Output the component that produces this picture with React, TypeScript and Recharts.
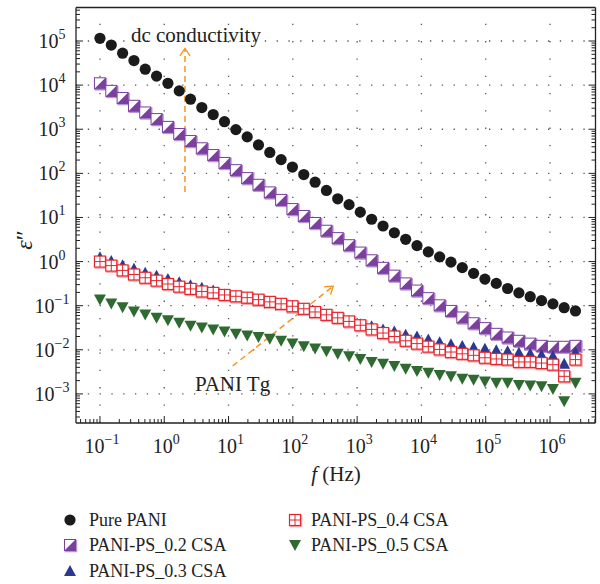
import { ScatterChart, Scatter, XAxis, YAxis, ReferenceLine, ReferenceDot } from "recharts";

// frequency (Hz)
const freq = [
  0.1, 0.15, 0.225, 0.338, 0.506, 0.759, 1.14, 1.71, 2.56, 3.84, 5.77, 8.65, 13.0, 19.5, 29.2,
  43.8, 65.7, 98.5, 148, 222, 333, 499, 749, 1120, 1680, 2530, 3790, 5690, 8530, 12800, 19200,
  28800, 43200, 64800, 97200, 146000, 219000, 328000, 492000, 738000, 1110000, 1660000, 2490000,
];

const purePani = [
  1.15e5, 8.1e4, 5.3e4, 3.6e4, 2.3e4, 1.6e4, 1.1e4, 7.4e3, 4.8e3, 3.1e3, 2.15e3, 1.48e3, 980, 670,
  440, 298, 205, 139, 94, 63, 41, 26.5, 19.5, 13.2, 9.1, 6.4, 4.5, 3.2, 2.3, 1.66, 1.28, 0.97, 0.73,
  0.54, 0.4, 0.32, 0.245, 0.195, 0.16, 0.13, 0.11, 0.09, 0.076,
];
const ps02 = [
  1.1e4, 7.4e3, 5.1e3, 3.4e3, 2.4e3, 1.7e3, 1.13e3, 780, 540, 370, 260, 172, 118, 78, 55, 37, 25,
  15.5, 10.8, 7.5, 5.0, 3.4, 2.35, 1.6, 1.07, 0.72, 0.48, 0.32, 0.22, 0.148, 0.102, 0.076, 0.054,
  0.04, 0.031, 0.023, 0.019, 0.016, 0.0138, 0.0123, 0.0117, 0.0117, 0.0123,
];
const ps03 = [
  1.25, 1.03, 0.83, 0.69, 0.56, 0.48, 0.4, 0.34, 0.29, 0.255, 0.22, 0.18, 0.155, 0.14, 0.125, 0.11,
  0.098, 0.088, 0.077, 0.067, 0.058, 0.051, 0.043, 0.038, 0.034, 0.029, 0.026, 0.022, 0.02, 0.0172,
  0.0148, 0.0134, 0.0122, 0.0112, 0.0105, 0.0098, 0.0093, 0.0086, 0.0081, 0.0076, 0.0071, 0.0048,
  0.0087,
];
const ps04 = [
  1.0, 0.81, 0.63, 0.51, 0.43, 0.37, 0.31, 0.27, 0.24, 0.21, 0.195, 0.175, 0.163, 0.152, 0.137,
  0.122, 0.11, 0.097, 0.085, 0.072, 0.062, 0.053, 0.044, 0.036, 0.029, 0.024, 0.02, 0.016, 0.0138,
  0.0118, 0.0102, 0.0089, 0.0081, 0.0075, 0.0066, 0.0062, 0.006, 0.0053, 0.0053, 0.005, 0.0046,
  0.0025, 0.006,
];
const ps05 = [
  0.138, 0.112, 0.092, 0.074, 0.063, 0.053, 0.047, 0.041, 0.035, 0.032, 0.029, 0.026, 0.023, 0.021,
  0.0194, 0.0177, 0.016, 0.0138, 0.012, 0.0107, 0.0093, 0.0081, 0.0071, 0.0062, 0.0053, 0.0048,
  0.0043, 0.0037, 0.0033, 0.003, 0.0027, 0.0025, 0.0022, 0.0021, 0.0019, 0.0018, 0.0018, 0.0016,
  0.00155, 0.0015, 0.0013, 0.00068, 0.0018,
];

const xMajor = [0.1, 1, 10, 100, 1e3, 1e4, 1e5, 1e6];
const yMajor = [1e-3, 1e-2, 1e-1, 1, 10, 100, 1e3, 1e4, 1e5];
const xDomain = [0.0424, 5.1e6];
const yDomain = [2.19e-4, 5.75e5];

const FONT = '"Liberation Serif", "Times New Roman", serif';
const ORANGE = "#f7941d";
const AXIS = "#222";

// minor ticks 2..9 of every decade inside the domain
function logTicks(domain: number[]) {
  const out: number[] = [];
  for (let e = Math.floor(Math.log10(domain[0])); e <= Math.ceil(Math.log10(domain[1])); e++) {
    for (let m = 1; m <= 9; m++) {
      const v = m * Math.pow(10, e);
      if (v >= domain[0] && v <= domain[1]) out.push(v);
    }
  }
  return out;
}
const xTicks = logTicks(xDomain);
const yTicks = logTicks(yDomain);

const isMajor = (v: number) => Math.abs(Math.log10(v) - Math.round(Math.log10(v))) < 1e-6;
const expText = (v: number) => {
  const e = Math.round(Math.log10(v));
  return e < 0 ? "\u2212" + -e : String(e);
};

const toData = (vals: number[]) => freq.map((f, i) => ({ f, v: vals[i] }));

function BottomTick(p: any) {
  const v = p.payload.value;
  const maj = isMajor(v);
  return (
    <g>
      <line x1={p.x} x2={p.x} y1={p.y} y2={p.y - (maj ? 7 : 4)} stroke={AXIS} strokeWidth={1} />
      {maj && (
        <text x={p.x + 2} y={p.y + 30} textAnchor="middle" fontFamily={FONT} fontSize={20} fill="#222">
          10<tspan dy={-9} fontSize={14}>{expText(v)}</tspan>
        </text>
      )}
    </g>
  );
}
function TopTick(p: any) {
  const maj = isMajor(p.payload.value);
  return <line x1={p.x} x2={p.x} y1={p.y} y2={p.y + (maj ? 7 : 4)} stroke={AXIS} strokeWidth={1} />;
}
function LeftTick(p: any) {
  const v = p.payload.value;
  const maj = isMajor(v);
  return (
    <g>
      <line x1={p.x} x2={p.x + (maj ? 7 : 4)} y1={p.y} y2={p.y} stroke={AXIS} strokeWidth={1} />
      {maj && (
        <text x={p.x - 24} y={p.y + 7} textAnchor="middle" fontFamily={FONT} fontSize={20} fill="#222">
          10<tspan dy={-9} fontSize={14}>{expText(v)}</tspan>
        </text>
      )}
    </g>
  );
}
function RightTick(p: any) {
  const maj = isMajor(p.payload.value);
  return <line x1={p.x} x2={p.x - (maj ? 7 : 4)} y1={p.y} y2={p.y} stroke={AXIS} strokeWidth={1} />;
}

// markers
const CircleM = ({ cx, cy }: any) => <circle cx={cx} cy={cy} r={5.6} fill="#1b1b1b" />;
const HalfSquareM = ({ cx, cy }: any) => (
  <g>
    <rect x={cx - 4.5} y={cy - 4.5} width={11} height={11} fill="none" stroke="#b896d2" strokeWidth={1.5} />
    <rect x={cx - 5.5} y={cy - 5.5} width={11} height={11} fill="#fff" stroke="#7b3f9e" strokeWidth={1} />
    <polygon points={`${cx + 5.5},${cy - 5.5} ${cx + 5.5},${cy + 5.5} ${cx - 5.5},${cy + 5.5}`} fill="#7b3f9e" />
  </g>
);
const TriUpM = ({ cx, cy }: any) => (
  <polygon points={`${cx},${cy - 6} ${cx + 6},${cy + 5} ${cx - 6},${cy + 5}`} fill="#2b3990" />
);
const GridSquareM = ({ cx, cy }: any) => (
  <g>
    <rect x={cx - 4.5} y={cy - 4.5} width={11} height={11} fill="none" stroke="#f5a3a5" strokeWidth={1.5} />
    <rect x={cx - 5.5} y={cy - 5.5} width={11} height={11} fill="#fff" stroke="#e3262e" strokeWidth={1.2} />
    <line x1={cx} x2={cx} y1={cy - 5.5} y2={cy + 5.5} stroke="#e3262e" strokeWidth={1} />
    <line x1={cx - 5.5} x2={cx + 5.5} y1={cy} y2={cy} stroke="#e3262e" strokeWidth={1} />
  </g>
);
const TriDownM = ({ cx, cy }: any) => (
  <polygon points={`${cx - 6},${cy - 5} ${cx + 6},${cy - 5} ${cx},${cy + 6}`} fill="#2f6a30" />
);

function Arrow(p: any) {
  const { x1, y1, x2, y2 } = p;
  const a = Math.atan2(y2 - y1, x2 - x1);
  const L = 9;
  const w = 0.6;
  const h1 = `${x2 - L * Math.cos(a - w)},${y2 - L * Math.sin(a - w)}`;
  const h2 = `${x2 - L * Math.cos(a + w)},${y2 - L * Math.sin(a + w)}`;
  return (
    <g>
      <line x1={x1} y1={y1} x2={x2} y2={y2} stroke={ORANGE} strokeWidth={1.5} strokeDasharray="6 4" />
      <polyline points={`${h1} ${x2},${y2} ${h2}`} fill="none" stroke={ORANGE} strokeWidth={1.3} />
    </g>
  );
}

const series = [
  { name: "Pure PANI", data: purePani, shape: CircleM },
  { name: "PANI-PS_0.2 CSA", data: ps02, shape: HalfSquareM },
  { name: "PANI-PS_0.3 CSA", data: ps03, shape: TriUpM },
  { name: "PANI-PS_0.4 CSA", data: ps04, shape: GridSquareM },
  { name: "PANI-PS_0.5 CSA", data: ps05, shape: TriDownM },
];

const legendPos = [
  { x: 70, y: 520 },
  { x: 70, y: 545 },
  { x: 70, y: 571 },
  { x: 295, y: 520 },
  { x: 295, y: 545 },
];

export default function App() {
  return (
    <div style={{ position: "absolute", left: 0, top: 0, width: 600, height: 584, background: "#fff" }}>
      <ScatterChart width={600} height={584} margin={{ top: 6.5, right: 3.5, bottom: 160, left: 75 }}>
        <XAxis
          dataKey="f"
          type="number"
          scale="log"
          domain={xDomain}
          allowDataOverflow
          ticks={xTicks}
          interval={0}
          height={1}
          tickSize={0}
          tickMargin={0}
          tickLine={false}
          tick={<BottomTick />}
          axisLine={{ stroke: AXIS, strokeWidth: 1.3 }}
          label={{
            content: () => (
              <text x={336} y={481} textAnchor="middle" fontFamily={FONT} fontSize={21} fill="#222">
                <tspan fontStyle="italic">f</tspan> (Hz)
              </text>
            ),
          }}
        />
        <XAxis
          xAxisId="top"
          orientation="top"
          type="number"
          scale="log"
          domain={xDomain}
          allowDataOverflow
          ticks={xTicks}
          interval={0}
          height={1}
          tickSize={0}
          tickMargin={0}
          tickLine={false}
          tick={<TopTick />}
          axisLine={{ stroke: AXIS, strokeWidth: 1.3 }}
        />
        <YAxis
          dataKey="v"
          type="number"
          scale="log"
          domain={yDomain}
          allowDataOverflow
          ticks={yTicks}
          interval={0}
          width={1}
          tickSize={0}
          tickMargin={0}
          tickLine={false}
          tick={<LeftTick />}
          axisLine={{ stroke: AXIS, strokeWidth: 1.3 }}
          label={{
            content: () => (
              <text
                x={0}
                y={0}
                transform="translate(32 240) rotate(-90)"
                textAnchor="middle"
                fontFamily={FONT}
                fontSize={24}
                fill="#222"
              >
                <tspan fontStyle="italic">{"\u03b5"}</tspan>
                {"\u2033"}
              </text>
            ),
          }}
        />
        <YAxis
          yAxisId="right"
          orientation="right"
          type="number"
          scale="log"
          domain={yDomain}
          allowDataOverflow
          ticks={yTicks}
          interval={0}
          width={1}
          tickSize={0}
          tickMargin={0}
          tickLine={false}
          tick={<RightTick />}
          axisLine={{ stroke: AXIS, strokeWidth: 1.3 }}
        />
        {xMajor.map((v) => (
          <ReferenceLine key={"gx" + v} x={v} stroke="#555" strokeWidth={1.3} strokeDasharray="1.3 16" />
        ))}
        {yMajor.map((v) => (
          <ReferenceLine key={"gy" + v} y={v} stroke="#555" strokeWidth={1.3} strokeDasharray="1.3 10.5" />
        ))}
        <ReferenceLine segment={[{ x: 2.1, y: 38 }, { x: 2.1, y: 6.8e4 }]} shape={Arrow} />
        <ReferenceLine segment={[{ x: 11.6, y: 0.0043 }, { x: 425, y: 0.278 }]} shape={Arrow} />
        <ReferenceDot
          x={0.303}
          y={9.5e4}
          shape={(p: any) => (
            <text x={p.cx} y={p.cy} fontFamily={FONT} fontSize={21} fill="#222">
              dc conductivity
            </text>
          )}
        />
        <ReferenceDot
          x={3.0}
          y={1.17e-3}
          shape={(p: any) => (
            <text x={p.cx} y={p.cy} fontFamily={FONT} fontSize={21} fill="#222">
              PANI Tg
            </text>
          )}
        />
        {series.map((s) => (
          <Scatter
            key={s.name}
            name={s.name}
            data={toData(s.data)}
            shape={s.shape}
            isAnimationActive={false}
          />
        ))}
      </ScatterChart>
      {series.map((s, i) => {
        const M = s.shape;
        const pos = legendPos[i];
        return (
          <div key={s.name} style={{ position: "absolute", left: pos.x - 8, top: pos.y - 12, height: 24 }}>
            <svg width={16} height={24} style={{ position: "absolute", left: 0, top: 0 }}>
              <M cx={8} cy={12} />
            </svg>
            <span
              style={{
                position: "absolute",
                left: (i < 3 ? 89 : 311) - (pos.x - 8),
                top: 0,
                lineHeight: "24px",
                fontFamily: FONT,
                fontSize: 18,
                color: "#222",
                whiteSpace: "nowrap",
              }}
            >
              {s.name}
            </span>
          </div>
        );
      })}
    </div>
  );
}
